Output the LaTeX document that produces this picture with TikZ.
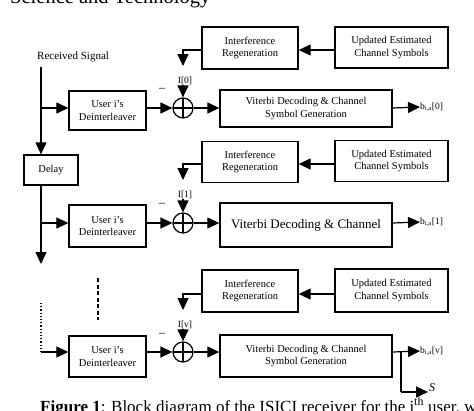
\documentclass[tikz,border=0pt]{standalone}
\usepackage{fontspec}
\setmainfont{Liberation Serif}
\usetikzlibrary{arrows.meta}
\begin{document}
\begin{tikzpicture}[x=1pt,y=-1pt,
  blk/.style={draw, line width=1.3pt, inner sep=1pt, align=center,
    font=\fontsize{10.5}{12.5}\selectfont},
  conn/.style={line width=1.2pt},
  arr/.style={conn, -{Triangle[length=12pt,width=11pt]}},
  sumnode/.style={circle, draw, line width=1.2pt, minimum size=20pt, inner sep=0pt,
    path picture={\draw[line width=1.2pt]
      (path picture bounding box.north) -- (path picture bounding box.south)
      (path picture bounding box.west) -- (path picture bounding box.east);}},
  lbl/.style={inner sep=0pt, font=\fontsize{9.5}{11}\selectfont},
  outl/.style={anchor=west, inner sep=0pt, font=\fontsize{9.5}{11}\selectfont},
  minus/.style={inner sep=0pt, font=\fontsize{12}{12}\selectfont}]
\useasboundingbox (0,0) rectangle (474,410);

% header and caption (cut by the page edge, as in the reference)
\node[anchor=base west, inner sep=0pt, font=\fontsize{20.5}{24}\selectfont] (hdr) at (10,3.5) {Science and Technology};
\node[anchor=base west, inner sep=0pt, font=\fontsize{17}{20}\selectfont] (cap) at (40,412)
  {\textbf{Figure 1}: Block diagram of the ISICI receiver for the i\textsuperscript{th} user, w};

\node[anchor=west, inner sep=0pt, font=\fontsize{11}{13}\selectfont] (rs) at (37,57) {Received Signal};

% ---- row 0
\node[blk, minimum width=77pt, minimum height=39pt] (d0) at (107.5,110.5) {User i's\\Deinterleaver};
\node[sumnode] (s0) at (183,108) {};
\node[blk, minimum width=172pt, minimum height=37pt] (v0) at (306,108.5) {Viterbi Decoding \& Channel\\Symbol Generation};
\node[blk, minimum width=96pt, minimum height=42pt] (i0) at (250,48) {Interference\\Regeneration};
\node[blk, minimum width=113pt, minimum height=41pt] (u0) at (391.5,47.5) {Updated Estimated\\Channel Symbols};
\node[lbl] (I0) at (185,81) {I[0]};
\node[minus] (m0) at (162,90) {\textendash};
\node[outl] (o0) at (420,107) {b\textsubscript{i,a}[0]};

% ---- row 1
\node[blk, minimum width=54pt, minimum height=30pt] (dl) at (51,170) {Delay};
\node[blk, minimum width=77pt, minimum height=42pt] (d1) at (107.5,226) {User i's\\Deinterleaver};
\node[sumnode] (s1) at (183,223) {};
\node[blk, minimum width=172pt, minimum height=44pt, font=\fontsize{13}{15}\selectfont] (v1) at (306,225) {Viterbi Decoding \& Channel};
\node[blk, minimum width=96pt, minimum height=41pt] (i1) at (250,162) {Interference\\Regeneration};
\node[blk, minimum width=113pt, minimum height=41pt] (u1) at (391.5,161) {Updated Estimated\\Channel Symbols};
\node[lbl] (I1) at (185,195) {I[1]};
\node[minus] (m1) at (162,205) {\textendash};
\node[outl] (o1) at (420,222) {b\textsubscript{i,a}[1]};

% ---- row 2
\node[blk, minimum width=77pt, minimum height=41pt] (d2) at (107.5,356.5) {User i's\\Deinterleaver};
\node[sumnode] (s2) at (183,352) {};
\node[blk, minimum width=172pt, minimum height=42pt] (v2) at (306,356) {Viterbi Decoding \& Channel\\Symbol Generation};
\node[blk, minimum width=96pt, minimum height=42pt] (i2) at (250,291) {Interference\\Regeneration};
\node[blk, minimum width=113pt, minimum height=43pt] (u2) at (391.5,290.5) {Updated Estimated\\Channel Symbols};
\node[lbl] (I2) at (185,325) {I[v]};
\node[minus] (m2) at (162,335) {\textendash};
\node[outl] (o2) at (420,351) {b\textsubscript{i,a}[v]};
\node[anchor=west, inner sep=0pt, font=\fontsize{12}{14}\selectfont\itshape] (sl) at (429,388) {S};

% ---- coordinates
\coordinate (top) at (41,67);
\coordinate (b0) at (41,108);
\coordinate (b1) at (41,223);
\coordinate (dn) at (41,264);
\coordinate (dt) at (41,303);
\coordinate (b2) at (41,352);
\coordinate (da) at (98,278);
\coordinate (db) at (98,320);
\coordinate (t0) at (183,66);
\coordinate (t1) at (183,180);
\coordinate (t2) at (183,310);
\coordinate (br) at (401,352);
\coordinate (bs) at (401,392);
\coordinate (se) at (428,392);

% ---- signal path
\draw[conn] (top) -- (b0);
\draw[arr] (b0) -- (top |- dl.north);
\draw[arr] (b0) -- (b0 -| d0.west);
\draw[conn] (dl.south -| b1) -- (b1);
\draw[arr] (b1) -- (dn);
\draw[arr] (b1) -- (b1 -| d1.west);
\draw[conn, dotted] (dt) -- (b2);
\draw[arr] (b2) -- (b2 -| d2.west);
\draw[conn, dash pattern=on 4pt off 2.5pt] (da) -- (db);

% row 0 connectors
\draw[arr] (s0 -| d0.east) -- (s0.west);
\draw[arr] (s0.east) -- (s0 -| v0.west);
\draw[arr] (u0.west |- 0,50) -- (i0.east |- 0,50);
\draw[arr] (i0.west |- 0,50) -| (t0);
\draw[arr] (I0.south -| s0) -- (s0.north);
\draw[arr] (s0 -| v0.east) -- (o0.west);

% row 1 connectors
\draw[arr] (s1 -| d1.east) -- (s1.west);
\draw[arr] (s1.east) -- (s1 -| v1.west);
\draw[arr] (u1.west |- 0,164) -- (i1.east |- 0,164);
\draw[arr] (i1.west |- 0,164) -| (t1);
\draw[arr] (I1.south -| s1) -- (s1.north);
\draw[arr] (s1 -| v1.east) -- (o1.west);

% row 2 connectors
\draw[arr] (s2 -| d2.east) -- (s2.west);
\draw[arr] (s2.east) -- (s2 -| v2.west);
\draw[arr] (u2.west |- 0,294) -- (i2.east |- 0,294);
\draw[arr] (i2.west |- 0,294) -| (t2);
\draw[arr] (I2.south -| s2) -- (s2.north);
\draw[arr] (s2 -| v2.east) -- (o2.west);
\draw[conn] (br) -- (bs);
\draw[arr] (bs) -- (se);
\end{tikzpicture}
\end{document}
